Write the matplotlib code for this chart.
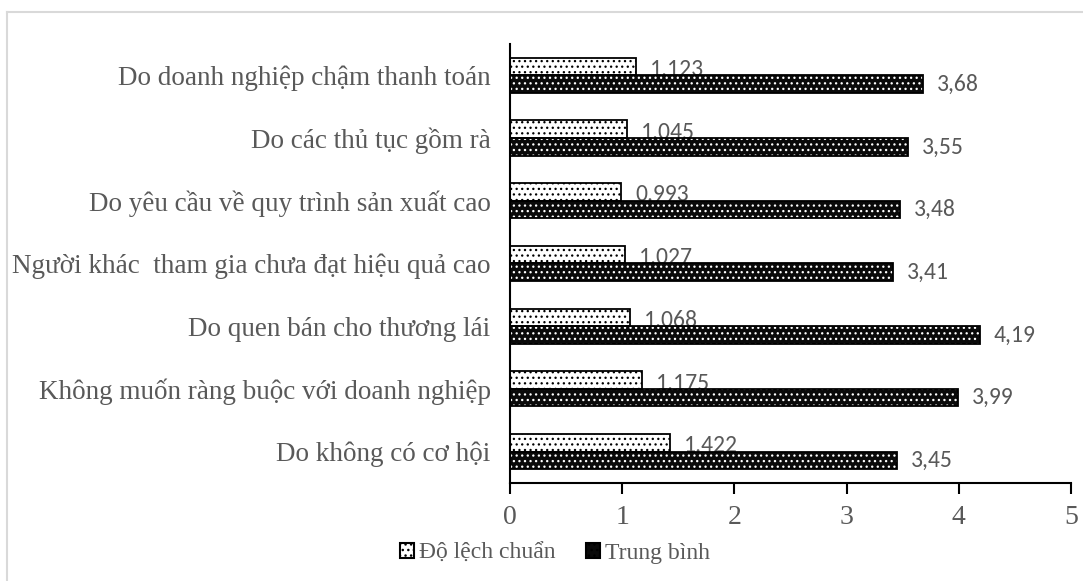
import matplotlib.pyplot as plt
from matplotlib.patches import Patch
from matplotlib.lines import Line2D
import numpy as np

# Reasons for not joining linkage with enterprises (top to bottom)
categories = [
    'Do doanh nghiệp chậm thanh toán',
    'Do các thủ tục gồm rà',
    'Do yêu cầu về quy trình sản xuất cao',
    'Người khác  tham gia chưa đạt hiệu quả cao',
    'Do quen bán cho thương lái',
    'Không muốn ràng buộc với doanh nghiệp',
    'Do không có cơ hội',
]
std_dev = [1.123, 1.045, 0.993, 1.027, 1.068, 1.175, 1.422]
mean = [3.68, 3.55, 3.48, 3.41, 4.19, 3.99, 3.45]
xticks = [0, 1, 2, 3, 4, 5]

serif = ['Liberation Serif', 'DejaVu Serif']
sans = ['Carlito', 'Lato', 'DejaVu Sans']
gray = '#595959'


def vn(x, digits):
    return f'{x:.{digits}f}'.replace('.', ',')


fig = plt.figure(figsize=(10.83, 5.81), dpi=100)
ax = fig.add_axes([0.4709, 0.1687, 0.518, 0.7556])

y = np.arange(len(categories))
h = 0.28

# standard deviation: white bars with sparse black dots
with plt.rc_context({'hatch.linewidth': 0.9}):
    ax.barh(y - h / 2, std_dev, h, facecolor='white', edgecolor='black',
            hatch='...', linewidth=0, zorder=1)
    # mean: black bars with a grid of white dots
    ax.barh(y + h / 2, mean, h, facecolor='#0a0a0a', edgecolor='white',
            hatch='...', linewidth=0, zorder=2)
ax.barh(y - h / 2, std_dev, h, facecolor='none', edgecolor='black', linewidth=1.3, zorder=2)
ax.barh(y + h / 2, mean, h, facecolor='none', edgecolor='black', linewidth=1.3, zorder=2)

for yi, v in zip(y, std_dev):
    ax.annotate(vn(v, 3), (v, yi - h / 2), xytext=(10, -2), textcoords='offset points',
                va='center', ha='left', fontsize=17, color=gray, family=sans, zorder=1.5)
for yi, v in zip(y, mean):
    ax.annotate(vn(v, 2), (v, yi + h / 2), xytext=(10, 0), textcoords='offset points',
                va='center', ha='left', fontsize=17, color=gray, family=sans)

ax.set_ylim(len(categories) - 0.5, -0.5)
ax.set_xlim(0, 5)
ax.set_xticks(xticks)
ax.set_xticklabels([str(t) for t in xticks], family=serif, fontsize=20, color=gray)
ax.set_yticks(y)
ax.set_yticklabels(categories, family=serif, fontsize=19.5, color=gray)
ax.tick_params(axis='y', length=0, pad=14)
ax.tick_params(axis='x', length=8, width=1.5, direction='out', pad=8)

for s in ['top', 'right']:
    ax.spines[s].set_visible(False)
ax.spines['left'].set_linewidth(1.5)
ax.spines['bottom'].set_linewidth(1.5)

with plt.rc_context({'hatch.linewidth': 0.9}):
    handles = [
        Patch(facecolor='white', edgecolor='black', hatch='...', linewidth=1.5),
        Patch(facecolor='#0a0a0a', edgecolor='black', hatch='...', linewidth=1.5),
    ]
fig.legend(handles, ['Độ lệch chuẩn', 'Trung bình'], loc='center',
           bbox_to_anchor=(555 / 1083, 1 - 553 / 581), ncol=2, frameon=False,
           prop={'family': serif, 'size': 17}, labelcolor=gray,
           handlelength=0.6, handleheight=0.6, handletextpad=0.2, columnspacing=1.3)

# light frame around the chart area
fig.add_artist(Line2D([7 / 1083, 1], [1 - 12 / 581, 1 - 12 / 581],
                      transform=fig.transFigure, color='#d9d9d9', lw=1.5))
fig.add_artist(Line2D([7 / 1083, 7 / 1083], [0, 1 - 12 / 581],
                      transform=fig.transFigure, color='#d9d9d9', lw=1.5))

fig.savefig('out.png', dpi=100)
